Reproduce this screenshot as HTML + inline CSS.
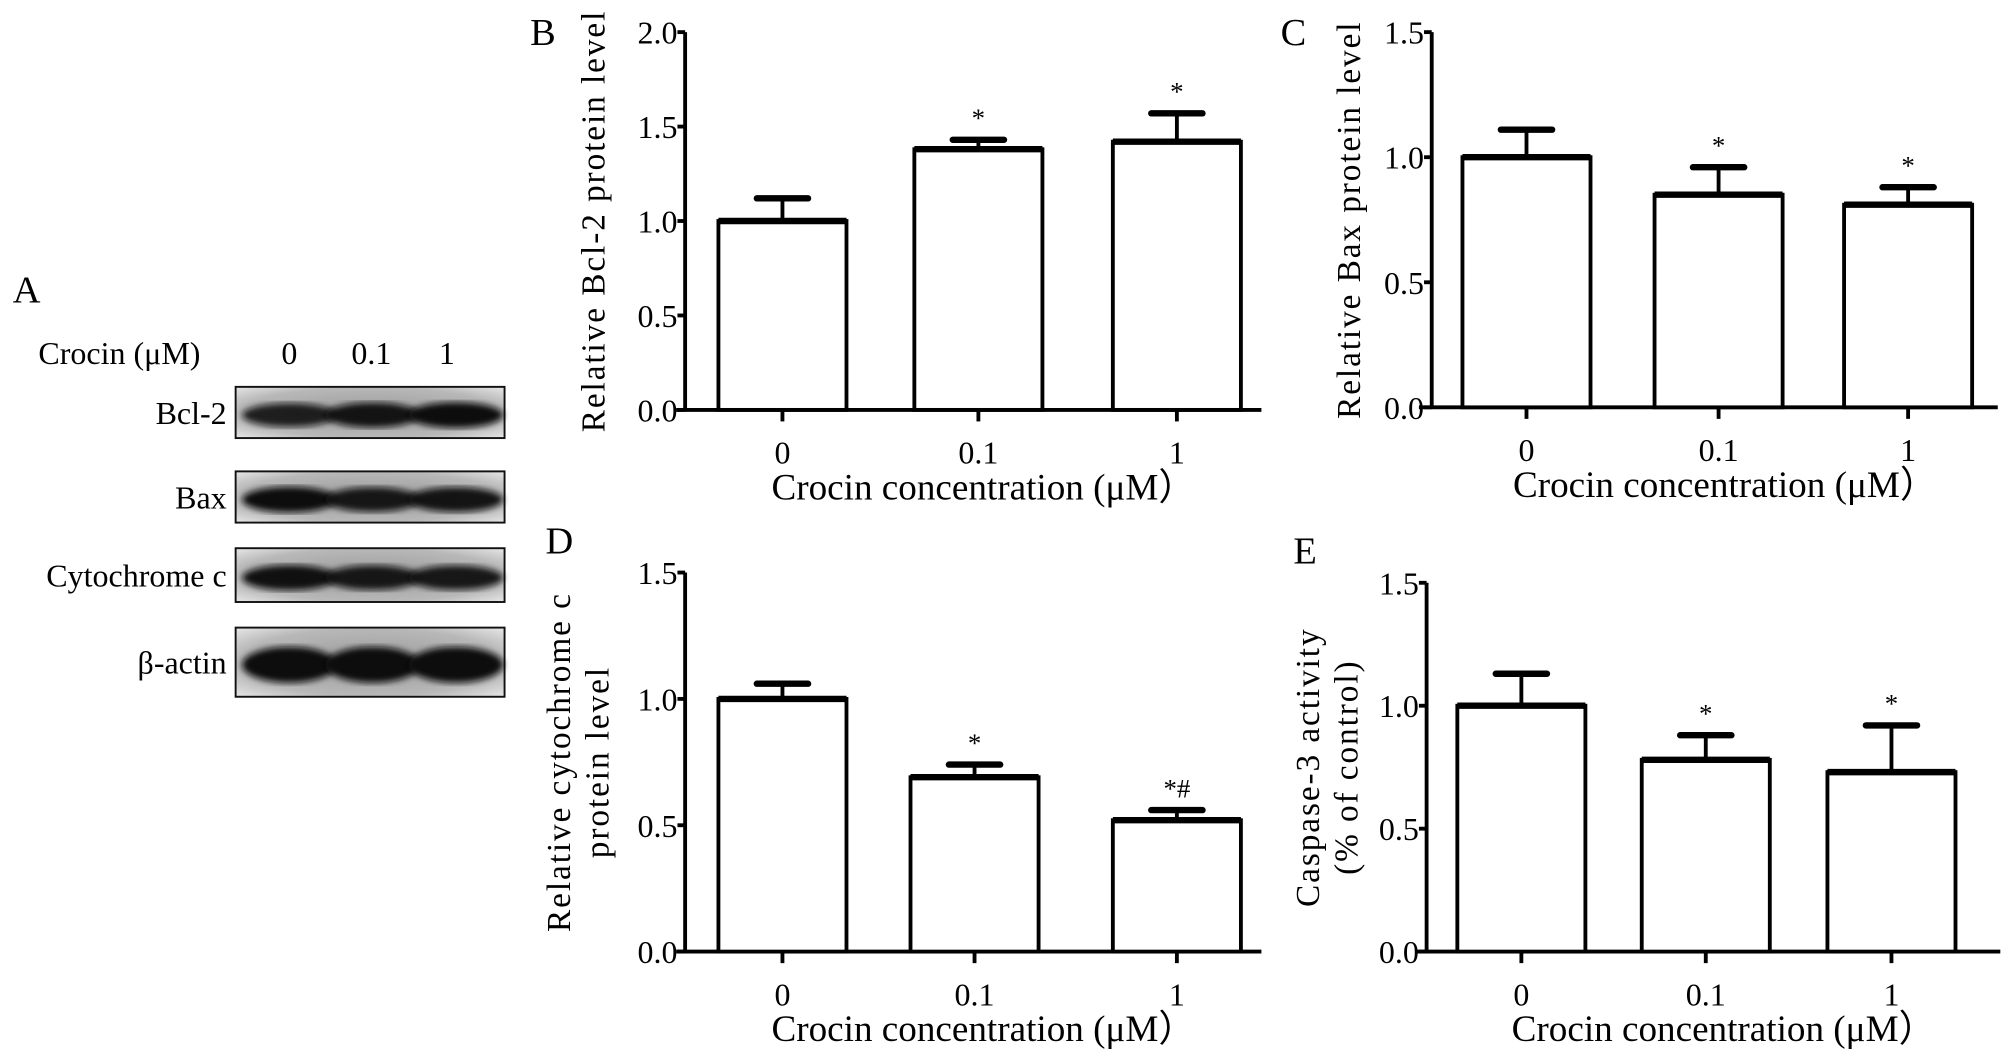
<!DOCTYPE html>
<html><head><meta charset="utf-8"><style>
html,body{margin:0;padding:0;background:#fff}
svg{display:block}
text{font-family:"Liberation Serif",serif;fill:#000}
</style></head><body>
<svg id="fig" width="2008" height="1058" viewBox="0 0 1568 826" xmlns="http://www.w3.org/2000/svg">
<defs>
<radialGradient id="blotbg" cx="50%" cy="50%" r="70%">
<stop offset="0" stop-color="#9a9a9a"/><stop offset="0.7" stop-color="#b8b8b8"/><stop offset="1" stop-color="#e6e6e6"/>
</radialGradient>
<filter id="blur"><feGaussianBlur stdDeviation="2.5"/></filter>
</defs>
<g id="panelA">
<text x="10" y="236" font-size="30">A</text>
<text x="30" y="284" font-size="25">Crocin (μM)</text>
<text x="226" y="284" font-size="25" text-anchor="middle">0</text>
<text x="290" y="284" font-size="25" text-anchor="middle">0.1</text>
<text x="349" y="284" font-size="25" text-anchor="middle">1</text>
</g>
<g id="chartB"></g><g id="chartC"></g><g id="chartD"></g><g id="chartE"></g>
</svg>
<script>
const NS="http://www.w3.org/2000/svg";
const categories=["0","0.1","1"];
const bValues=[1.0,1.38,1.42];
const bErrors=[0.12,0.05,0.15];
const bMarks=["","*","*"];
const cValues=[1.0,0.85,0.81];
const cErrors=[0.11,0.11,0.07];
const cMarks=["","*","*"];
const dValues=[1.0,0.69,0.52];
const dErrors=[0.06,0.05,0.04];
const dMarks=["","*","*#"];
const eValues=[1.0,0.78,0.73];
const eErrors=[0.13,0.10,0.19];
const eMarks=["","*","*"];
const bTicks=["0.0","0.5","1.0","1.5","2.0"];
const otherTicks=["0.0","0.5","1.0","1.5"];
const blotRows=["Bcl-2","Bax","Cytochrome  c","β-actin"];
const blotIntensity=[[0.75,0.9,1.0],[1.0,0.85,0.9],[0.95,0.85,0.85],[1.0,1.0,1.0]];

function mk(tag,attrs,parent,txt){const e=document.createElementNS(NS,tag);for(const k in attrs)e.setAttribute(k,attrs[k]);if(txt!==undefined)e.textContent=txt;parent.appendChild(e);return e;}

const A=document.getElementById('panelA');
const rowsY=[[302,342],[368,408],[428,470],[490,544]];
blotRows.forEach((r,i)=>{
 const [y0,y1]=rowsY[i];
 const t=mk('text',{x:177,y:(y0+y1)/2+9,'font-size':25,'text-anchor':'end','xml:space':'preserve'},A,r);
 
 
 const bx=mk('rect',{x:184,y:y0,width:210,height:y1-y0,fill:'url(#blotbg)',stroke:'#111','stroke-width':1.5},A);
 
 
 blotIntensity[i].forEach((v,j)=>{
  const cx=226+j*65,cy=(y0+y1)/2+2;
  const el=mk('ellipse',{cx:cx,cy:cy,rx:37,ry:(i==3?11:7)+v*3,fill:'#111','fill-opacity':0.6+0.4*v,filter:'url(#blur)'},A);
  
  
 });
});

function chart(id,cfg){
 const g=document.getElementById(id);
 const {ax,yTop,y0,max,ticks,vals,errs,marks,centers,title,label,lx,ly,xl,xr,titleX}=cfg;
 const ys=v=>y0-(v/max)*(y0-yTop);
 const lab=mk('text',{x:lx,y:ly,'font-size':30},g,label);
 
 
 const yaxis=mk('line',{x1:ax,y1:yTop,x2:ax,y2:y0,stroke:'#000','stroke-width':3},g);
 
 
 const xaxis=mk('line',{x1:xl,y1:y0,x2:xr,y2:y0,stroke:'#000','stroke-width':3},g);
 
 
 ticks.forEach((t)=>{
  const y=ys(parseFloat(t));
  mk('line',{x1:ax-6,y1:y,x2:ax,y2:y,stroke:'#000','stroke-width':3},g);
  const tl=mk('text',{x:ax-6,y:y+9,'font-size':25,'text-anchor':'end'},g,t);
  
  
 });
 const bw=100;
 categories.forEach((c,i)=>{
  const cx=centers[i],top=ys(vals[i]),et=ys(vals[i]+errs[i]);
  mk('line',{x1:cx,y1:top,x2:cx,y2:et,stroke:'#000','stroke-width':3},g);
  mk('line',{x1:cx-20,y1:et,x2:cx+20,y2:et,stroke:'#000','stroke-width':5,'stroke-linecap':'round'},g);
  const b=mk('rect',{x:cx-bw/2,y:top,width:bw,height:y0-top,fill:'#fff',stroke:'#000','stroke-width':3},g);
  
  
  mk('line',{x1:cx-bw/2,y1:top,x2:cx+bw/2,y2:top,stroke:'#000','stroke-width':5},g);
  mk('line',{x1:cx,y1:y0,x2:cx,y2:y0+9,stroke:'#000','stroke-width':3},g);
  const xl2=mk('text',{x:cx,y:y0+42,'font-size':25,'text-anchor':'middle'},g,c);
  
  
  if(marks[i]){const s=mk('text',{x:cx,y:et-10,'font-size':21,'text-anchor':'middle'},g,marks[i]);
   
   }
 });
 const xt=mk('text',{x:(ax+xr)/2+8,y:y0+70,'font-size':29,'text-anchor':'middle'},g,'Crocin concentration (μM）');
 
 
 title.forEach((line,k)=>{
  const tx=titleX+k*30, ty=(yTop+y0)/2;
  const t=mk('text',{x:tx,y:ty,'font-size':26,'text-anchor':'middle','letter-spacing':'1.5',transform:`rotate(-90 ${tx} ${ty})`},g,line);
  
  
 });
}
chart('chartB',{ax:535,yTop:25,y0:320,max:2.0,ticks:bTicks,vals:bValues,errs:bErrors,marks:bMarks,centers:[611,764,919],title:['Relative Bcl-2 protein level'],label:'B',lx:414,ly:35,xl:528,xr:985,titleX:472});
chart('chartC',{ax:1118,yTop:25,y0:318,max:1.5,ticks:otherTicks,vals:cValues,errs:cErrors,marks:cMarks,centers:[1192,1342,1490],title:['Relative Bax protein level'],label:'C',lx:1000,ly:35,xl:1108,xr:1560,titleX:1062});
chart('chartD',{ax:535,yTop:447,y0:743,max:1.5,ticks:otherTicks,vals:dValues,errs:dErrors,marks:dMarks,centers:[611,761,919],title:['Relative cytochrome c','protein level'],label:'D',lx:426,ly:432,xl:528,xr:985,titleX:445});
chart('chartE',{ax:1114,yTop:455,y0:743,max:1.5,ticks:otherTicks,vals:eValues,errs:eErrors,marks:eMarks,centers:[1188,1332,1477],title:['Caspase-3 activity','(% of control)'],label:'E',lx:1010,ly:440,xl:1106,xr:1562,titleX:1030});
</script>
</body></html>
